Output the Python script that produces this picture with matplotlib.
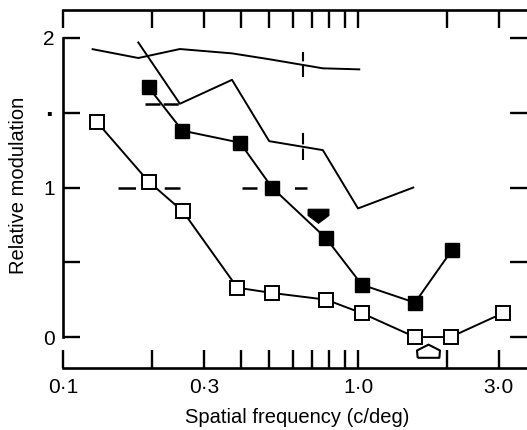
import matplotlib
matplotlib.use("Agg")
import matplotlib.pyplot as plt
from matplotlib.path import Path

plt.rcParams['font.family'] = ['Liberation Sans', 'DejaVu Sans']

# open squares
open_x = [0.13, 0.195, 0.255, 0.39, 0.51, 0.78, 1.03, 1.56, 2.06, 3.1]
open_y = [1.44, 1.04, 0.84, 0.33, 0.295, 0.25, 0.16, 0.0, 0.0, 0.16]

# filled squares
fill_x = [0.195, 0.254, 0.398, 0.511, 0.78, 1.03, 1.56, 2.08]
fill_y = [1.67, 1.38, 1.30, 1.00, 0.66, 0.35, 0.23, 0.58]

# plain lines
lineA_x = [0.126, 0.18, 0.249, 0.374, 0.503, 0.76, 1.01]
lineA_y = [1.925, 1.866, 1.926, 1.897, 1.857, 1.797, 1.79]
lineB_x = [0.18, 0.249, 0.374, 0.50, 0.76, 1.0, 1.54]
lineB_y = [1.97, 1.56, 1.72, 1.31, 1.25, 0.86, 1.00]

# dashed markers
hdash1_x = [0.154, 0.249]   # y = 1
hdash2_x = [0.405, 0.67]    # y = 1
hdash3_x = [0.19, 0.249]    # y = 1.56
vdash_x = 0.65
vdash1_y = [1.74, 1.906]
vdash2_y = [1.184, 1.371]

# arrows
arrow_down = (0.732, 0.816)
arrow_up = (1.73, -0.094)

xticks = [0.1, 0.2, 0.3, 0.4, 0.5, 0.6, 0.7, 0.8, 0.9, 1.0, 2.0, 3.0]
xticklabels = ['0·1', '', '0·3', '', '', '', '', '', '', '1·0', '', '3·0']
yticks = [0, 0.5, 1, 1.5, 2]
yticklabels = ['0', '', '1', '·', '2']

fig = plt.figure(figsize=(5.27, 4.30), dpi=100)
ax = fig.add_axes([63 / 527, 1 - 368 / 430, (527 - 63) / 527, (368 - 10) / 430])
ax.set_xscale('log')
ax.set_xlim(0.1, 3.74)
ax.set_ylim(-0.207, 2.187)

lw = 1.4
ax.plot(lineA_x, lineA_y, color='black', lw=lw, zorder=2)
ax.plot(lineB_x, lineB_y, color='black', lw=lw, zorder=2)

ax.plot(hdash1_x, [1, 1], color='black', lw=1.8, dashes=(7, 11.5), zorder=1)
ax.plot(hdash2_x, [1, 1], color='black', lw=1.8, dashes=(6, 15), zorder=1)
ax.plot(hdash3_x, [1.56, 1.56], color='black', lw=1.8, dashes=(6, 1.3), zorder=1)
ax.plot([vdash_x, vdash_x], vdash1_y, color='black', lw=1.5, dashes=(5.5, 2), zorder=1)
ax.plot([vdash_x, vdash_x], vdash2_y, color='black', lw=1.5, dashes=(5.5, 2), zorder=1)

ax.plot(open_x, open_y, color='black', lw=lw, marker='s', ms=10,
        mfc='white', mec='black', mew=1.4, zorder=3)
ax.plot(fill_x, fill_y, color='black', lw=lw, marker='s', ms=10.5,
        mfc='black', mec='black', mew=1.0, zorder=3)

down_path = Path([(-1, 0.6), (1, 0.6), (1, 0.0), (0, -0.75), (-1, 0.0), (-1, 0.6)])
up_path = Path([(-0.95, -0.55), (0.95, -0.55), (1, 0.09), (0, 0.6), (-1, 0.09), (-0.95, -0.55)])
ax.plot([arrow_down[0]], [arrow_down[1]], marker=down_path, ms=15,
        mfc='black', mec='black', mew=0.8, ls='none', zorder=4)
ax.plot([arrow_up[0]], [arrow_up[1]], marker=up_path, ms=16.5,
        mfc='white', mec='black', mew=1.5, ls='none', zorder=4)

# axes frame
for s in ['top', 'bottom', 'left']:
    ax.spines[s].set_linewidth(1.9)
ax.spines['right'].set_visible(False)
ax.spines['left'].set_bounds(0, 2)

ax.xaxis.set_major_locator(plt.FixedLocator(xticks))
ax.xaxis.set_major_formatter(plt.FixedFormatter(xticklabels))
ax.xaxis.set_minor_locator(plt.NullLocator())
ax.tick_params(axis='x', which='major', direction='in', top=True, bottom=True,
               length=13, width=1.7, labelsize=15, pad=7)
ax.set_yticks(yticks)
ax.set_yticklabels(yticklabels)
ax.tick_params(axis='y', direction='in', left=True, right=True,
               length=12, width=1.7, labelsize=15, pad=6)
for t in ax.get_yticklabels():
    if t.get_text() == '·':
        t.set_fontweight('bold')
        t.set_fontsize(20)

ax.set_xlabel('Spatial frequency (c/deg)', fontsize=14.5)
ax.xaxis.set_label_coords(0.504, -0.112)
ax.set_ylabel('Relative modulation', fontsize=14.5)
ax.yaxis.set_label_coords(-0.075, 0.51)

fig.savefig('out.png', dpi=100)
